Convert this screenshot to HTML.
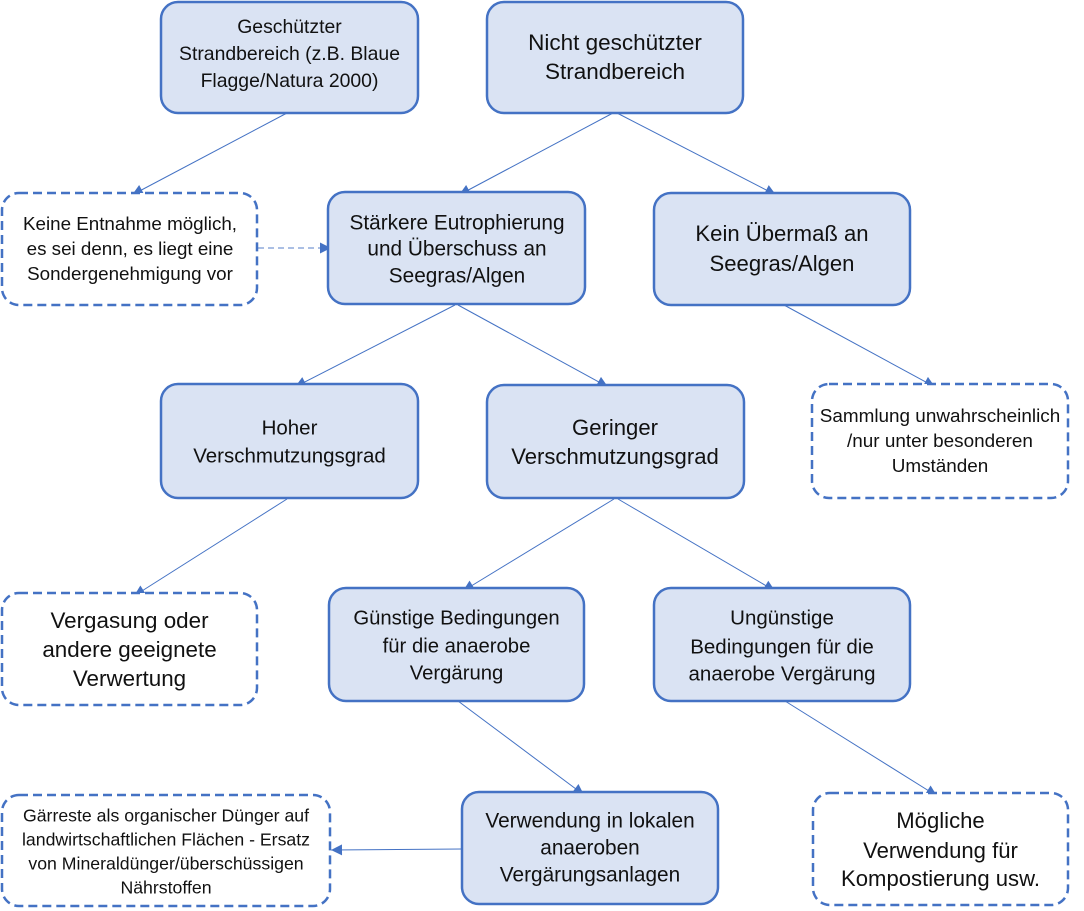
<!DOCTYPE html>
<html>
<head>
<meta charset="utf-8">
<style>
  html, body { margin: 0; padding: 0; background: #ffffff; }
  svg { display: block; }
  text { font-family: "Liberation Sans", Arial, sans-serif; fill: #111111; text-anchor: middle; }
</style>
</head>
<body>
<svg width="1084" height="911" viewBox="0 0 1084 911" xmlns="http://www.w3.org/2000/svg">
  <defs>
    <marker id="ah" viewBox="0 0 10 10" refX="10" refY="5" markerWidth="12" markerHeight="11" markerUnits="userSpaceOnUse" orient="auto">
      <path d="M0,0 L10,5 L0,10 z" fill="#4472c4"/>
    </marker>
    <marker id="ahl" viewBox="0 0 10 10" refX="10" refY="5" markerWidth="12" markerHeight="11" markerUnits="userSpaceOnUse" orient="auto">
      <path d="M0,0 L10,5 L0,10 z" fill="#4472c4"/>
    </marker>
  </defs>

  <!-- connectors -->
  <g stroke="#4472c4" stroke-width="1" fill="none">
    <line x1="287" y1="113" x2="132" y2="195" marker-end="url(#ah)"/>
    <line x1="613" y1="113" x2="459" y2="195" marker-end="url(#ah)"/>
    <line x1="617" y1="113" x2="776" y2="195" marker-end="url(#ah)"/>
    <line x1="455" y1="305" x2="295" y2="387" marker-end="url(#ah)"/>
    <line x1="458" y1="305" x2="608" y2="387" marker-end="url(#ah)"/>
    <line x1="784" y1="305" x2="935" y2="387" marker-end="url(#ah)"/>
    <line x1="287" y1="499" x2="134" y2="596" marker-end="url(#ah)"/>
    <line x1="614" y1="499" x2="463" y2="591" marker-end="url(#ah)"/>
    <line x1="618" y1="499" x2="775" y2="591" marker-end="url(#ah)"/>
    <line x1="458" y1="701" x2="584" y2="795" marker-end="url(#ah)"/>
    <line x1="785" y1="701" x2="937" y2="796" marker-end="url(#ah)"/>
    <line x1="462" y1="849" x2="331" y2="850" marker-end="url(#ah)"/>
  </g>
  <line x1="258" y1="248" x2="331" y2="248" stroke="#8faadc" stroke-width="1.5" stroke-dasharray="6 4" marker-end="url(#ahl)"/>

  <!-- solid boxes -->
  <g fill="#dae3f3" stroke="#4472c4" stroke-width="2.5">
    <rect x="161" y="2" width="257" height="111" rx="17"/>
    <rect x="487" y="2" width="256" height="111" rx="17"/>
    <rect x="328" y="192" width="257" height="112" rx="17"/>
    <rect x="654" y="193" width="256" height="112" rx="17"/>
    <rect x="161" y="384" width="257" height="114" rx="17"/>
    <rect x="487" y="385" width="257" height="113" rx="17"/>
    <rect x="329" y="588" width="255" height="113" rx="17"/>
    <rect x="654" y="588" width="256" height="113" rx="17"/>
    <rect x="462" y="792" width="256" height="112" rx="17"/>
  </g>

  <!-- dashed boxes -->
  <g fill="#ffffff" stroke="#4472c4" stroke-width="2.5" stroke-dasharray="9 5">
    <rect x="2" y="193" width="255" height="112" rx="17"/>
    <rect x="812" y="384" width="256" height="114" rx="17"/>
    <rect x="2" y="593" width="255" height="112" rx="17"/>
    <rect x="2" y="795" width="328" height="111" rx="17"/>
    <rect x="813" y="793" width="255" height="112" rx="17"/>
  </g>

  <!-- texts -->
  <g font-size="19.4">
    <text x="289.5" y="33">Geschützter</text>
    <text x="289.5" y="60">Strandbereich (z.B. Blaue</text>
    <text x="289.5" y="87">Flagge/Natura 2000)</text>
  </g>
  <g font-size="22.5">
    <text x="615" y="50">Nicht geschützter</text>
    <text x="615" y="79">Strandbereich</text>
  </g>
  <g font-size="18.8">
    <text x="130" y="230">Keine Entnahme möglich,</text>
    <text x="130" y="255">es sei denn, es liegt eine</text>
    <text x="130" y="280">Sondergenehmigung vor</text>
  </g>
  <g font-size="20.8">
    <text x="457" y="229.5">Stärkere Eutrophierung</text>
    <text x="457" y="255.5">und Überschuss an</text>
    <text x="457" y="282.5">Seegras/Algen</text>
  </g>
  <g font-size="22.1">
    <text x="782" y="241">Kein Übermaß an</text>
    <text x="782" y="271">Seegras/Algen</text>
  </g>
  <g font-size="20.5">
    <text x="289.5" y="434.5">Hoher</text>
    <text x="289.5" y="462.5">Verschmutzungsgrad</text>
  </g>
  <g font-size="22.1">
    <text x="615" y="435">Geringer</text>
    <text x="615" y="464">Verschmutzungsgrad</text>
  </g>
  <g font-size="18.9">
    <text x="940" y="422">Sammlung unwahrscheinlich</text>
    <text x="940" y="447">/nur unter besonderen</text>
    <text x="940" y="472">Umständen</text>
  </g>
  <g font-size="22.4">
    <text x="129.5" y="628">Vergasung oder</text>
    <text x="129.5" y="657">andere geeignete</text>
    <text x="129.5" y="686">Verwertung</text>
  </g>
  <g font-size="20.3">
    <text x="456.5" y="624.5">Günstige Bedingungen</text>
    <text x="456.5" y="652.5">für die anaerobe</text>
    <text x="456.5" y="679.5">Vergärung</text>
  </g>
  <g font-size="20.5">
    <text x="782" y="624.5">Ungünstige</text>
    <text x="782" y="653.5">Bedingungen für die</text>
    <text x="782" y="680.5">anaerobe Vergärung</text>
  </g>
  <g font-size="17.7">
    <text x="166" y="821.5">Gärreste als organischer Dünger auf</text>
    <text x="166" y="845.5">landwirtschaftlichen Flächen - Ersatz</text>
    <text x="166" y="869.5">von Mineraldünger/überschüssigen</text>
    <text x="166" y="893.5">Nährstoffen</text>
  </g>
  <g font-size="20.8">
    <text x="590" y="827.5">Verwendung in lokalen</text>
    <text x="590" y="854.5">anaeroben</text>
    <text x="590" y="881.5">Vergärungsanlagen</text>
  </g>
  <g font-size="22.1">
    <text x="940.5" y="828">Mögliche</text>
    <text x="940.5" y="858">Verwendung für</text>
    <text x="940.5" y="886">Kompostierung usw.</text>
  </g>
</svg>
</body>
</html>
